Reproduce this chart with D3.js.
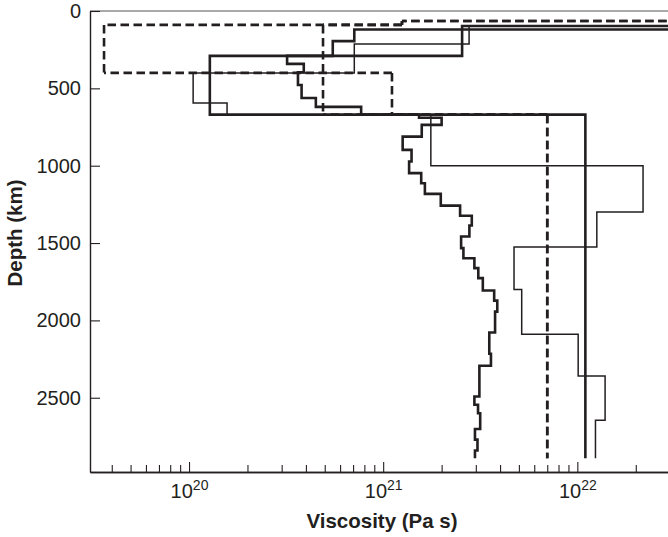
<!DOCTYPE html>
<html>
<head>
<meta charset="utf-8">
<script src="https://cdn.jsdelivr.net/npm/d3@7"></script>
<style>
  body { margin: 0; background: #fff; }
  svg { display: block; font-family: "Liberation Sans", Arial, Helvetica, sans-serif; }
</style>
</head>
<body>
<svg id="chart" width="668" height="537"></svg>
<script>
// layer boundaries (km) and viscosity of each layer (Pa s)
// 1e24 stands for the lithosphere, which sits off the right of the chart
const thickDepth = [0, 120, 195, 290, 670, 2891];
const thickVisc = [1e24, 7.1e20, 5.5e20, 1.28e20, 1.1e22];

const stairDepth = [0, 97, 290, 342, 396, 478, 562, 620, 670, 690, 736, 812, 898, 973, 1048,
  1113, 1182, 1258, 1324, 1387, 1458, 1533, 1598, 1662, 1727, 1807, 1872, 1943, 2078, 2216,
  2293, 2492, 2545, 2600, 2702, 2771, 2841, 2891];
const stairVisc = [1e24, 2.55e21, 3.2e20, 3.9e20, 3.64e20, 3.8e20, 4.5e20, 7.7e20, 1.53e21,
  2.0e21, 1.58e21, 1.26e21, 1.40e21, 1.36e21, 1.57e21, 1.64e21, 1.98e21, 2.49e21, 2.86e21,
  2.78e21, 2.52e21, 2.59e21, 2.95e21, 3.09e21, 3.26e21, 3.73e21, 3.87e21, 3.77e21, 3.52e21,
  3.59e21, 3.13e21, 2.95e21, 3.08e21, 3.16e21, 2.97e21, 3.06e21, 2.97e21];

const thinDepth = [0, 97, 213, 400, 594, 670, 1000, 1300, 1525, 1800, 2090, 2360, 2645, 2891];
const thinVisc = [1e24, 2.77e21, 7.1e20, 1.05e20, 1.57e20, 1.76e21, 2.18e22, 1.26e22,
  4.72e21, 5.17e21, 1.01e22, 1.39e22, 1.24e22];

const dashADepth = [0, 65, 90, 400, 670, 2891];
const dashAVisc = [1e24, 1.25e21, 3.65e19, 1.11e21, 7e21];

const dashBDepth = [0, 65, 90, 670, 2891];
const dashBVisc = [1e24, 1.25e21, 4.9e20, 7e21];

const depthTicks = [0, 500, 1000, 1500, 2000, 2500];
const viscMajor = [1e20, 1e21, 1e22];
const viscExp = ["20", "21", "22"];

const ink = "#231f20";
const svg = d3.select("#chart");
const plotL = 90, plotR = 668, plotT = 11, plotB = 472;

const x = d3.scaleLog().domain([10 ** 19.49, 10 ** 22.467]).range([plotL, plotR]);
const y = d3.scaleLinear().domain([0, 2980]).range([plotT, plotB]);

svg.append("clipPath").attr("id", "plot")
  .append("rect")
  .attr("x", plotL).attr("y", plotT)
  .attr("width", plotR - plotL).attr("height", plotB - plotT);

// step profile -> corner points
function steps(depth, visc) {
  const pts = [];
  visc.forEach((v, i) => {
    pts.push([v, depth[i]]);
    pts.push([v, depth[i + 1]]);
  });
  return pts;
}

const line = d3.line().x(d => x(d[0])).y(d => y(d[1]));
const g = svg.append("g").attr("clip-path", "url(#plot)");

g.append("path")
  .attr("d", line(steps(thinDepth, thinVisc)))
  .attr("fill", "none").attr("stroke", ink).attr("stroke-width", 1.5);

g.append("path")
  .attr("d", line(steps(thickDepth, thickVisc)))
  .attr("fill", "none").attr("stroke", ink).attr("stroke-width", 2.6);

g.append("path")
  .attr("d", line(steps(stairDepth, stairVisc)))
  .attr("fill", "none").attr("stroke", ink).attr("stroke-width", 2.6);

// dashed profiles as separate segments so overlapping pieces keep the same dash phase
function segments(depth, visc) {
  const pts = steps(depth, visc);
  const segs = [];
  for (let i = 0; i < pts.length - 1; i++) {
    let a = pts[i], b = pts[i + 1];
    if (a[1] === b[1] && a[0] < b[0]) [a, b] = [b, a];
    if (a[0] !== b[0] || a[1] !== b[1]) segs.push([a, b]);
  }
  return segs;
}

[[dashADepth, dashAVisc], [dashBDepth, dashBVisc]].forEach(([d, v]) => {
  g.selectAll(null)
    .data(segments(d, v))
    .enter()
    .append("line")
    .attr("x1", s => x(s[0][0])).attr("y1", s => y(s[0][1]))
    .attr("x2", s => x(s[1][0])).attr("y2", s => y(s[1][1]))
    .attr("stroke", ink).attr("stroke-width", 2.6)
    .attr("stroke-dasharray", "8.5,4.5");
});

// frame top
svg.append("line")
  .attr("x1", plotL).attr("x2", plotR).attr("y1", plotT).attr("y2", plotT)
  .attr("stroke", "#555").attr("stroke-width", 1);

// y axis
const yAxis = svg.append("g")
  .attr("transform", `translate(${plotL},0)`)
  .call(d3.axisLeft(y).tickValues(depthTicks).tickFormat(d3.format("d"))
    .tickSizeInner(-10).tickSizeOuter(0).tickPadding(9));
yAxis.selectAll("text").attr("font-size", 20).attr("fill", ink);

// x axis: minor ticks then major ticks with labels
const minor = [];
[19, 20, 21, 22].forEach(e => {
  for (let m = 2; m <= 9; m++) minor.push(m * 10 ** e);
});
svg.append("g")
  .attr("transform", `translate(0,${plotB})`)
  .call(d3.axisBottom(x).tickValues(minor.filter(v => v >= x.domain()[0] && v <= x.domain()[1]))
    .tickSizeInner(-7).tickSizeOuter(0).tickFormat(""));

const xAxis = svg.append("g")
  .attr("transform", `translate(0,${plotB})`)
  .call(d3.axisBottom(x).tickValues(viscMajor).tickSizeInner(-10).tickSizeOuter(0));

xAxis.selectAll(".tick text").each(function (d, i) {
  const t = d3.select(this).text(null).attr("y", 26).attr("dy", null)
    .attr("font-size", 20).attr("fill", ink);
  t.append("tspan").text("10");
  t.append("tspan").attr("font-size", 14).attr("dy", -8).text(viscExp[i]);
});

svg.selectAll("g").attr("font-family", null);
svg.selectAll(".domain").attr("stroke", ink).attr("stroke-width", 1.4);
svg.selectAll(".tick line").attr("stroke", ink).attr("stroke-width", 1.1);

// axis titles
svg.append("text")
  .attr("x", 382).attr("y", 528)
  .attr("text-anchor", "middle")
  .attr("font-size", 20.5).attr("font-weight", "bold").attr("fill", ink)
  .text("Viscosity (Pa s)");

svg.append("text")
  .attr("transform", "translate(22,233) rotate(-90)")
  .attr("text-anchor", "middle")
  .attr("font-size", 20.5).attr("font-weight", "bold").attr("fill", ink)
  .text("Depth (km)");
</script>
</body>
</html>
